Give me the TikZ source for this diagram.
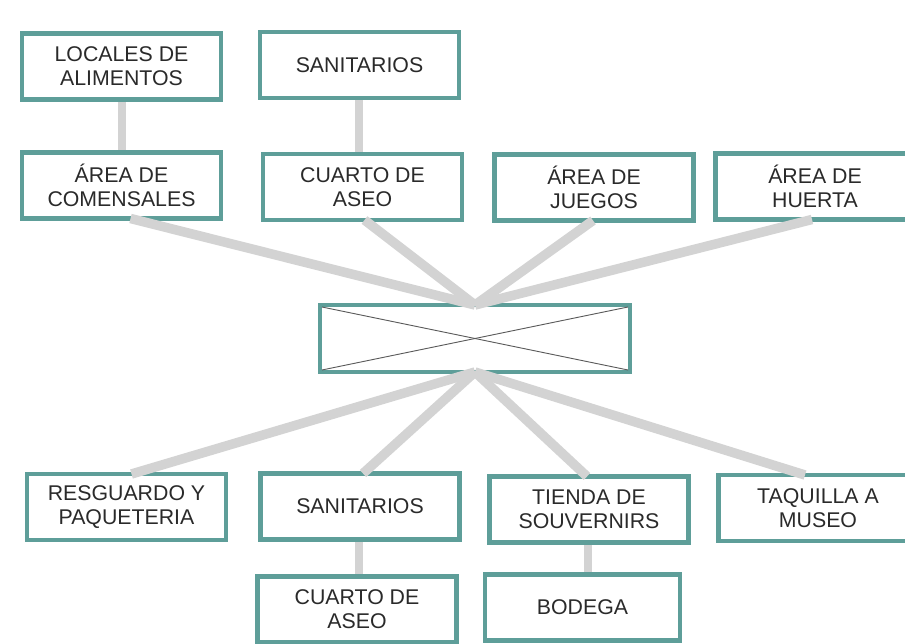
\documentclass[tikz,border=0pt]{standalone}
\usepackage{fontspec}
\setmainfont{Liberation Sans}
\usetikzlibrary{calc}
\definecolor{tealb}{HTML}{5E9E99}
\definecolor{conn}{HTML}{D3D3D3}
\definecolor{txt}{HTML}{2A2A2A}
\begin{document}
\begin{tikzpicture}[x=1pt,y=-1pt,
 box/.style={draw=tealb, line width=4.3pt, fill=white, minimum width=199pt, minimum height=66pt,
   inner sep=0pt, outer sep=0pt, align=center, text=txt, font=\fontsize{21.3}{24.3}\selectfont},
 link/.style={draw=conn, line width=9.5pt},
 vlink/.style={draw=conn, line width=8pt}]
\useasboundingbox (0,0) rectangle (905,644);
\clip (0,0) rectangle (905,644);
\fill[white] (0,0) rectangle (905,644);
% vertical links (behind boxes)
\coordinate (v1) at (122,100);
\coordinate (v2) at (122,152);
\draw[vlink] (v1) -- (v2);
\coordinate (v3) at (359,98);
\coordinate (v4) at (359,154);
\draw[vlink] (v3) -- (v4);
\coordinate (v5) at (359,540);
\coordinate (v6) at (359,577);
\draw[vlink] (v5) -- (v6);
\coordinate (v7) at (588,542);
\coordinate (v8) at (588,575);
\draw[vlink] (v7) -- (v8);
% boxes
\node[box] (loc) at (121.5,66.5) {LOCALES DE\\ALIMENTOS};
\node[box] (sant) at (359.5,65) {SANITARIOS};
\node[box] (com) at (121.5,185.5) {ÁREA DE\\COMENSALES};
\node[box] (cuat) at (362.5,187) {CUARTO DE\\ASEO};
\node[box] (jue) at (594,187.5) {ÁREA DE\\JUEGOS};
\node[box] (hue) at (815,186.5) {ÁREA DE\\HUERTA};
\node[box, minimum width=310pt, minimum height=67pt] (hub) at (475,338.5) {};
\node[box] (res) at (126.5,507) {RESGUARDO Y\\PAQUETERIA};
\node[box] (sanb) at (360,506.5) {SANITARIOS};
\node[box] (tie) at (589,509.5) {TIENDA DE\\SOUVERNIRS};
\node[box] (taq) at (818,508) {TAQUILLA A\\MUSEO};
\node[box] (cuab) at (357,609.5) {CUARTO DE\\ASEO};
\node[box, minimum width=195pt] (bod) at (582.5,607.5) {BODEGA};
% cross in hub
\draw[line width=0.9pt, draw=black!65] ($(hub.north west)+(2,2)$) -- ($(hub.south east)+(-2,-2)$);
\draw[line width=0.9pt, draw=black!65] ($(hub.south west)+(2,-2)$) -- ($(hub.north east)+(-2,2)$);
% diagonal links
\draw[link] ($(com.south)+(9,0)$) -- (hub.north);
\draw[link] ($(cuat.south)+(2,0)$) -- (hub.north);
\draw[link] ($(jue.south)+(-1,0)$) -- (hub.north);
\draw[link] ($(hue.south)+(-3,0)$) -- (hub.north);
\draw[link] ($(res.north)+(5,0)$) -- (hub.south);
\draw[link] ($(sanb.north)+(3,0)$) -- (hub.south);
\draw[link] ($(tie.north)+(-2,0)$) -- (hub.south);
\draw[link] ($(taq.north)+(-13,0)$) -- (hub.south);
\end{tikzpicture}
\end{document}
